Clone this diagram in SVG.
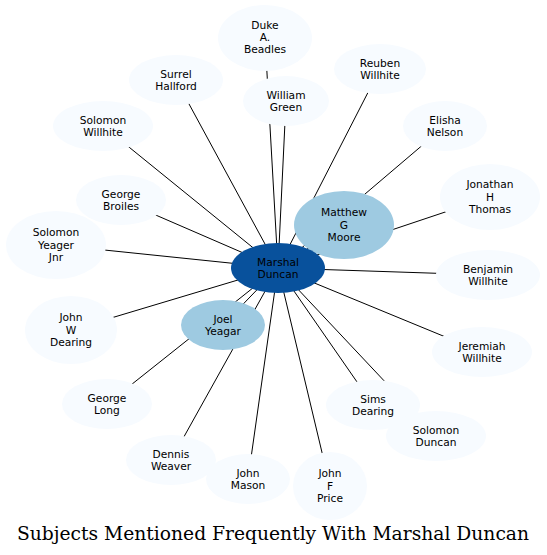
<svg xmlns="http://www.w3.org/2000/svg" width="547" height="555" viewBox="0 0 547 555">
<style>
.e line{stroke:#000;stroke-width:1}
.n ellipse{fill:#f7fbff;stroke:none}
.m ellipse{fill:#9ecae1;stroke:none}
.c ellipse{fill:#08519c;stroke:none}
text{font-family:"DejaVu Sans",sans-serif;font-size:10.67px;text-anchor:middle;fill:#000}
.t{font-family:"DejaVu Serif",serif;font-size:18.7px}
</style>
<rect width="547" height="555" fill="#fff"/>
<g id="edges" class="e">
<line x1="278" y1="268" x2="265" y2="38"/>
<line x1="278" y1="268" x2="176" y2="80"/>
<line x1="278" y1="268" x2="286" y2="101"/>
<line x1="278" y1="268" x2="380" y2="69"/>
<line x1="278" y1="268" x2="103" y2="126"/>
<line x1="278" y1="268" x2="445" y2="126"/>
<line x1="278" y1="268" x2="121" y2="200"/>
<line x1="278" y1="268" x2="490" y2="197"/>
<line x1="278" y1="268" x2="56" y2="245"/>
<line x1="278" y1="268" x2="344" y2="225"/>
<line x1="278" y1="268" x2="488" y2="275"/>
<line x1="278" y1="268" x2="71" y2="330"/>
<line x1="278" y1="268" x2="223" y2="325"/>
<line x1="278" y1="268" x2="482" y2="352"/>
<line x1="278" y1="268" x2="107" y2="404"/>
<line x1="278" y1="268" x2="373" y2="405"/>
<line x1="278" y1="268" x2="436" y2="436"/>
<line x1="278" y1="268" x2="171" y2="460"/>
<line x1="278" y1="268" x2="248" y2="479"/>
<line x1="278" y1="268" x2="330" y2="486"/>
</g>
<g id="duke" class="n"><ellipse cx="265" cy="38" rx="47" ry="33"/><text x="265" y="29">Duke</text><text x="265" y="41">A.</text><text x="265" y="53">Beadles</text></g>
<g id="surrel" class="n"><ellipse cx="176" cy="80" rx="47" ry="25"/><text x="176" y="77.5">Surrel</text><text x="176" y="90">Hallford</text></g>
<g id="william" class="n"><ellipse cx="286" cy="101" rx="43" ry="25"/><text x="286" y="98.5">William</text><text x="286" y="111">Green</text></g>
<g id="reuben" class="n"><ellipse cx="380" cy="69" rx="46" ry="25"/><text x="380" y="66.5">Reuben</text><text x="380" y="79">Willhite</text></g>
<g id="solomonw" class="n"><ellipse cx="103" cy="126" rx="50" ry="25"/><text x="103" y="123.5">Solomon</text><text x="103" y="136">Willhite</text></g>
<g id="elisha" class="n"><ellipse cx="445" cy="126" rx="42" ry="25"/><text x="445" y="123.5">Elisha</text><text x="445" y="136">Nelson</text></g>
<g id="georgeb" class="n"><ellipse cx="121" cy="200" rx="45" ry="25"/><text x="121" y="197.5">George</text><text x="121" y="210">Broiles</text></g>
<g id="jonathan" class="n"><ellipse cx="490" cy="197" rx="50" ry="33"/><text x="490" y="188">Jonathan</text><text x="490" y="200.5">H</text><text x="490" y="213">Thomas</text></g>
<g id="solomony" class="n"><ellipse cx="56" cy="245" rx="50" ry="34"/><text x="56" y="236">Solomon</text><text x="56" y="248.5">Yeager</text><text x="56" y="261">Jnr</text></g>
<g id="matthew" class="m"><ellipse cx="344" cy="225" rx="50" ry="34"/><text x="344" y="216">Matthew</text><text x="344" y="228.5">G</text><text x="344" y="241">Moore</text></g>
<g id="benjamin" class="n"><ellipse cx="488" cy="275" rx="52" ry="25"/><text x="488" y="272.5">Benjamin</text><text x="488" y="285">Willhite</text></g>
<g id="johnw" class="n"><ellipse cx="71" cy="330" rx="46" ry="34"/><text x="71" y="321">John</text><text x="71" y="333.5">W</text><text x="71" y="346">Dearing</text></g>
<g id="joel" class="m"><ellipse cx="223" cy="325" rx="42" ry="25"/><text x="223" y="322.5">Joel</text><text x="223" y="335">Yeagar</text></g>
<g id="jeremiah" class="n"><ellipse cx="482" cy="352" rx="50" ry="25"/><text x="482" y="349.5">Jeremiah</text><text x="482" y="362">Willhite</text></g>
<g id="georgel" class="n"><ellipse cx="107" cy="404" rx="45" ry="25"/><text x="107" y="401.5">George</text><text x="107" y="414">Long</text></g>
<g id="sims" class="n"><ellipse cx="373" cy="405" rx="47" ry="25"/><text x="373" y="402.5">Sims</text><text x="373" y="415">Dearing</text></g>
<g id="solomond" class="n"><ellipse cx="436" cy="436" rx="50" ry="25"/><text x="436" y="433.5">Solomon</text><text x="436" y="446">Duncan</text></g>
<g id="dennis" class="n"><ellipse cx="171" cy="460" rx="45" ry="25"/><text x="171" y="457.5">Dennis</text><text x="171" y="470">Weaver</text></g>
<g id="johnm" class="n"><ellipse cx="248" cy="479" rx="42" ry="25"/><text x="248" y="476.5">John</text><text x="248" y="489">Mason</text></g>
<g id="johnf" class="n"><ellipse cx="330" cy="486" rx="37" ry="34"/><text x="330" y="477">John</text><text x="330" y="489.5">F</text><text x="330" y="502">Price</text></g>
<g id="marshal" class="c"><ellipse cx="278" cy="268" rx="47" ry="25"/><text x="278" y="265.5">Marshal</text><text x="278" y="278">Duncan</text></g>
<text class="t" x="273" y="540">Subjects Mentioned Frequently With Marshal Duncan</text>
</svg>
